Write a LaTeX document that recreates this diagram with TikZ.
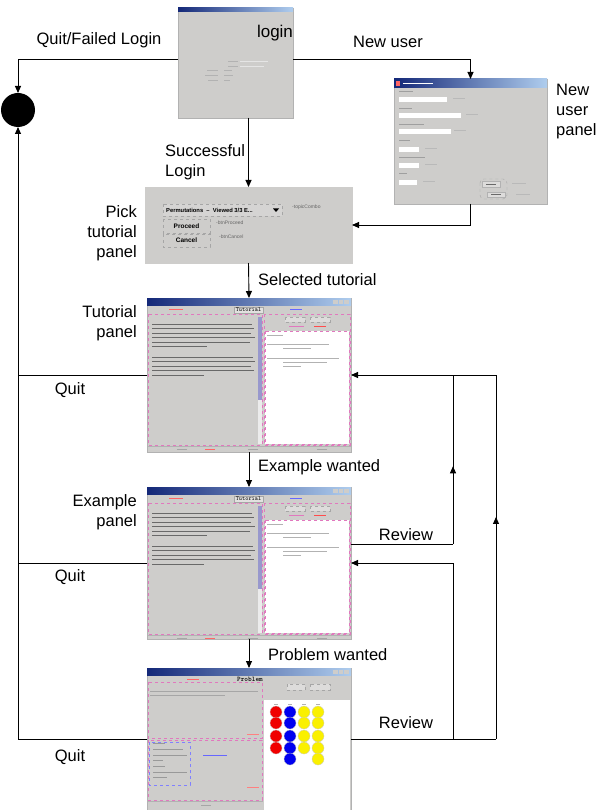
\documentclass[tikz,border=0pt]{standalone}
\usepackage{fontspec}
\setmainfont{Liberation Sans}
\usetikzlibrary{positioning,arrows.meta,calc,decorations.markings}

\definecolor{panelgray}{RGB}{206,205,203}
\definecolor{titledark}{RGB}{20,40,120}
\definecolor{titlelight}{RGB}{175,205,238}
\definecolor{pinkline}{RGB}{225,120,190}
\definecolor{txtgray}{RGB}{105,105,105}
\definecolor{ballred}{RGB}{240,0,0}
\definecolor{ballblue}{RGB}{0,0,240}
\definecolor{ballyellow}{RGB}{250,240,0}

\begin{document}
\begin{tikzpicture}[x=1pt, y=-1pt,
    font=\fontsize{16.5}{20}\selectfont,
    panel/.style={draw=gray!60, line width=0.5pt, fill=panelgray, inner sep=0pt, outer sep=0pt},
    lbl/.style={inner sep=0pt, align=center},
    lblr/.style={inner sep=0pt, align=right, anchor=east},
    lbll/.style={inner sep=0pt, align=left, anchor=west},
    flow/.style={line width=0.9pt},
    arr/.style={flow, -{Triangle[length=7pt, width=6pt]}},
    midup/.style={flow, postaction={decorate}, decoration={markings, mark=at position #1 with {\arrow{Triangle[length=7pt, width=6pt]}}}},
    titlebar/.style={left color=titledark, right color=titlelight},
    txtline/.style={draw=txtgray, line width=1pt},
    mini/.style={font=\fontsize{5}{6}\selectfont, inner sep=0pt},
    pinkbox/.style={draw=pinkline, dashed, line width=0.5pt},
    btnbox/.style={draw=gray!70, dashed, line width=0.4pt},
    ball/.style={circle, draw=gray!40, line width=0.3pt, minimum size=12pt, inner sep=0pt}
]
\useasboundingbox (0,0) rectangle (601,810);

% Screenshot panels
\node[panel, minimum width=115, minimum height=110] (login) at (235.5,63) {};
\node[panel, minimum width=153, minimum height=125] (newuser) at (470.5,141.5) {};
\node[panel, draw=panelgray, minimum width=207, minimum height=76] (pick) at (248.5,225) {};
\node[panel, minimum width=204, minimum height=154] (tut) at (249,375) {};
\node[panel, minimum width=204, minimum height=152] (ex) at (249,563) {};
\node[panel, minimum width=204, minimum height=142] (prob) at (249,739) {};

% Final state
\node[circle, fill=black, minimum size=34, inner sep=0pt, outer sep=0pt] (end) at (18,110) {};

% Login window
\begin{scope}[shift={(login.north west)}]
  \shade[titlebar] (0,0) rectangle (115,4);
  \node[font=\fontsize{17}{20}\selectfont, inner sep=0pt] (logintitle) at (97,25) {login};
  \foreach \y/\l in {63/11,68/13,73/10} \draw[txtline, draw=gray!60] (40-\l,\y) -- (40,\y);
  \foreach \y/\l in {63/8,68/9,73/6} \draw[txtline, draw=gray!60] (46,\y) -- ++(\l,0);
  \foreach \y/\l in {54/28,59/24} {
    \draw[txtline, draw=gray!60] (50,\y) -- ++(10,0);
    \draw[txtline, draw=gray!20] (62,\y) -- ++(\l,0);
  }
\end{scope}

% New user window
\begin{scope}[shift={(newuser.north west)}]
  \shade[titlebar] (0,0) rectangle (153,9);
  \fill[red!60] (2,2) rectangle (6,7);
  \draw[white, line width=0.8pt] (9,4.5) -- ++(30,0);
  \foreach \ly/\ll/\fy/\fl/\tx in {13/14/18/48/59, 30/13/34/62/72, 46/25/50/52/60, 62/11/68/20/31, 79/26/84/20/31, 95/8/101/18/29} {
    \draw[txtline, draw=gray!75] (5,\ly) -- ++(\ll,0);
    \fill[white] (5,\fy) rectangle ++(\fl,5);
    \draw[txtline, draw=gray!55, line width=0.6pt] (\tx,\fy+1.5) -- ++(12,0);
  }
  \draw[btnbox, rounded corners=4pt] (86,100) rectangle (113,120);
  \draw[gray!60, fill=panelgray!70!white, line width=0.3pt] (88,102) rectangle (106,108);
  \draw[gray!60, fill=panelgray!70!white, line width=0.3pt] (93,113) rectangle (111,118);
  \draw[txtline, line width=0.6pt] (92,105) -- ++(10,0);
  \draw[txtline, line width=0.6pt] (97,115.5) -- ++(10,0);
  \draw[txtline, draw=gray!55, line width=0.6pt] (118,104) -- ++(14,0);
  \draw[txtline, draw=gray!55, line width=0.6pt] (122,115) -- ++(14,0);
\end{scope}

% Pick tutorial window
\begin{scope}[shift={(pick.north west)}]
  \draw[btnbox, fill=panelgray!85!white] (18,17) rectangle (137,29);
  \node[mini, font=\fontsize{5.8}{6}\selectfont\bfseries, anchor=west] (combo) at (21,23) {Permutations \ -- \ Viewed 3/3 E...};
  \fill[black] (128,21.5) -- (134,21.5) -- (131,25) -- cycle;
  \draw[btnbox] (18,32) rectangle (65,46);
  \draw[btnbox] (18,47) rectangle (65,60);
  \node[mini, font=\fontsize{6.5}{7}\selectfont\bfseries] (proceed) at (41.5,39) {Proceed};
  \node[mini, font=\fontsize{6.5}{7}\selectfont\bfseries] (cancel) at (41.5,53.5) {Cancel};
  \node[mini, anchor=west, text=gray!80!black] (topic) at (147,20) {-topicCombo};
  \node[mini, anchor=west, text=gray!80!black] (btnp) at (71,36) {-btnProceed};
  \node[mini, anchor=west, text=gray!80!black] (btnc) at (74,50) {-btnCancel};
\end{scope}

% Tutorial and example windows
\foreach \w in {tut,ex} {
  \begin{scope}[shift={(\w.north west)}]
    \shade[titlebar] (0,0) rectangle (204,7);
    \foreach \bx in {186,191.5,197} \fill[panelgray] (\bx,1.5) rectangle ++(4.5,4);
    \draw[gray!70, fill=panelgray!60!white, line width=0.4pt] (87,9) rectangle (116,15);
    \node[font=\fontsize{6}{6}\ttfamily, inner sep=0pt] at (101.5,12) {Tutorial};
    \draw[txtline, draw=red!60, line width=0.6pt] (22,11) -- ++(14,0);
    \draw[txtline, draw=blue!60, line width=0.6pt] (143,11) -- ++(12,0);
    \draw[pinkbox] (1,16) rectangle (115,147);
    \fill[blue!35!gray!60] (111,19) rectangle (115,102);
    \fill[gray!15] (111,102) rectangle (115,146);
    \foreach \y/\l in {26/100,30.5/102,35/99,39.5/103,44/98,48.5/55,59/101,63.5/103,68/99,72.5/102,77/52}
      \draw[txtline] (5,\y) -- ++(\l,0);
    \draw[pinkbox] (117,16) rectangle (203,147);
    \draw[btnbox, fill=panelgray!70!white] (138,19) rectangle (158,24);
    \draw[btnbox, fill=panelgray!70!white] (163,19) rectangle (183,24);
    \draw[txtline, draw=pinkline, line width=0.6pt] (142,28.5) -- ++(15,0);
    \draw[txtline, draw=red!70, line width=0.6pt] (167,28.5) -- ++(12,0);
    \fill[white] (118,33) rectangle (202,146);
    \draw[pinkbox] (118,33) rectangle (202,146);
    \foreach \x/\y/\l in {120/37/16,120/46/62,136/50/28,120/60/72,136/64/44,136/68/18}
      \draw[txtline, draw=gray!60, line width=0.6pt] (\x,\y) -- ++(\l,0);
    \draw[gray!60, line width=0.3pt] (0,148) -- (204,148);
    \foreach \x/\c in {30/gray!70,58/red!60,101/gray!70,170/gray!70}
      \draw[txtline, draw=\c, line width=0.6pt] (\x,151) -- ++(10,0);
  \end{scope}
}

% Problem window
\begin{scope}[shift={(prob.north west)}]
  \shade[titlebar] (0,0) rectangle (204,7);
  \foreach \bx in {186,191.5,197} \fill[panelgray] (\bx,1.5) rectangle ++(4.5,4);
  \node[font=\fontsize{7}{7}\ttfamily\bfseries, inner sep=0pt] at (103,11) {Problem};
  \draw[txtline, draw=red!60, line width=0.6pt] (40,11) -- ++(12,0);
  \draw[pinkbox] (1,14) rectangle (115,70);
  \draw[txtline, draw=gray!70, line width=0.6pt] (3,23) -- ++(108,0);
  \draw[txtline, draw=gray!70, line width=0.6pt] (3,27) -- ++(75,0);
  \draw[txtline, draw=red!50, line width=0.5pt] (100,66) -- ++(12,0);
  \draw[pinkbox] (1,72) rectangle (115,132);
  \draw[dashed, draw=blue!50, line width=0.5pt] (2,74) rectangle (43,117);
  \foreach \y/\l in {75/12,81/30,87/34,92/10,98/12,104/34,109/14}
    \draw[txtline, draw=gray!80, line width=0.6pt] (6,\y) -- ++(\l,0);
  \draw[txtline, draw=blue!60, line width=0.6pt] (56,87) -- ++(24,0);
  \draw[txtline, draw=red!50, line width=0.5pt] (100,119) -- ++(12,0);
  \draw[btnbox, fill=panelgray!70!white] (140,16) rectangle (158,22);
  \draw[btnbox, fill=panelgray!70!white] (163,16) rectangle (183,22);
  \fill[white] (117,32) rectangle (203,142);
  \foreach \x in {129,143,157,171} \draw[txtline, draw=gray!60, line width=0.4pt] (\x-2,36) -- ++(4,0);
  \foreach \y in {44,55,68,80} {
    \node[ball, fill=ballred] at (129,\y) {};
    \node[ball, fill=ballblue] at (143,\y) {};
    \node[ball, fill=ballyellow] at (157,\y) {};
    \node[ball, fill=ballyellow] at (171,\y) {};
  }
  \node[ball, fill=ballblue] at (143,91) {};
  \node[ball, fill=ballyellow] at (171,91) {};
  \draw[gray!60, line width=0.3pt] (0,133) -- (116,133);
  \draw[txtline, draw=gray!70, line width=0.6pt] (54,137) -- ++(10,0);
\end{scope}

% Labels
\node[lbl] (qfl) at (99,40) {Quit/Failed Login};
\node[lbl] (nu) at (388,42) {New user};
\node[lbll] (nup) at (556,112) {New\\user\\panel};
\node[lbll] (sl) at (165,162) {Successful\\Login};
\node[lblr] (ptp) at (137,233) {Pick\\tutorial\\panel};
\node[lbll] (st) at (258,280) {Selected tutorial};
\node[lblr] (tp) at (137,323) {Tutorial\\panel};
\node[lbl] (q1) at (70,390) {Quit};
\node[lbll] (ew) at (258,467) {Example wanted};
\node[lblr] (ep) at (137,512) {Example\\panel};
\node[lbl] (rv1) at (406,535) {Review};
\node[lbl] (q2) at (70,577) {Quit};
\node[lbll] (pw) at (268,655) {Problem wanted};
\node[lbl] (rv2) at (406,723) {Review};
\node[lbl] (q3) at (70,757) {Quit};

% Transitions
\draw[arr] ($(login.west)+(0,-4)$) -| (end.north);
\draw[arr] ($(login.east)+(0,-4)$) -| (newuser.north);
\draw[arr] (newuser.south) |- (pick.east);
\draw[arr] (pick.north |- login.south) -- (pick.north);
\draw[arr] (pick.south) -- (tut.north);
\draw[arr] (tut.south) -- (ex.north);
\draw[arr] (ex.south) -- (prob.north);

% Quit transitions
\draw[flow] (tut.west) -- (end.center |- tut.west);
\draw[flow] (ex.west) -- (end.center |- ex.west);
\draw[arr] (prob.west) -| (end.south);

% Review transitions
\coordinate (colA) at (453,0);
\coordinate (colB) at (496,0);
\coordinate (exout) at ($(ex.east)+(0,-19)$);
\draw[flow] (exout) -- (colA |- exout);
\draw[midup=0.46] (colA |- exout) -- (colA |- tut.east);
\draw[flow] (prob.east) -- (colB |- prob.east);
\draw[midup=0.61] (colB |- prob.east) -- (colB |- tut.east);
\draw[arr] (colB |- tut.east) -- (tut.east);
\draw[arr] (colA |- prob.east) -- (colA |- ex.east) -- (ex.east);

\end{tikzpicture}
\end{document}
